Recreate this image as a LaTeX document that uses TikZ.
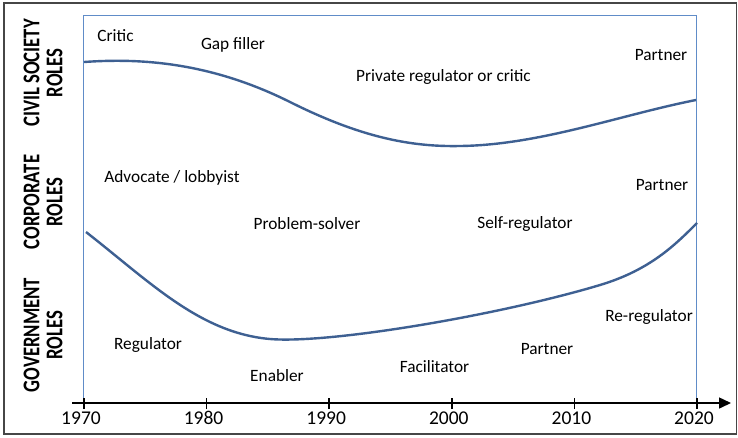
\documentclass[tikz,border=0pt]{standalone}
\usepackage{fontspec}
\setmainfont{Carlito}
\usetikzlibrary{arrows.meta}
\definecolor{curveblue}{RGB}{62,96,146}
\definecolor{boxblue}{RGB}{96,140,200}
\definecolor{frame}{RGB}{70,70,70}
\tikzset{
  lbl/.style={font=\fontsize{17.3}{20}\selectfont, anchor=base, inner sep=0pt},
  yr/.style={font=\fontsize{19.5}{22}\selectfont, anchor=base, inner sep=0pt},
  role/.style={font=\fontsize{24}{23}\selectfont\bfseries, rotate=90, align=center, inner sep=0pt, xscale=0.78},
  curve/.style={draw=curveblue, line width=2.4pt},
  tick/.style={draw=black, line width=1.5pt}
}
\begin{document}
\begin{tikzpicture}[x=1pt,y=-1pt]
\useasboundingbox (0,0) rectangle (738,437);
\fill[white] (0,0) rectangle (738,437);
\draw[frame, line width=1.5pt] (4,3) rectangle (736.5,434);
% blue box
\coordinate (bl) at (83.5,403);
\coordinate (tl) at (83.5,15);
\coordinate (tr) at (696.5,15);
\coordinate (br) at (696.5,403);
\draw[boxblue, line width=1pt] (bl) -- (tl) -- (tr) -- (br);
% curves
\coordinate (c0) at (84,62);
\coordinate (c1) at (290,102);
\coordinate (c2) at (460,146);
\coordinate (c3) at (696,100);
\draw[curve] (c0) .. controls (140,58) and (210,62) .. (c1)
  .. controls (360,137) and (410,147) .. (c2)
  .. controls (540,145) and (620,115) .. (c3);
\coordinate (g0) at (86,232);
\coordinate (g1) at (270,339);
\coordinate (g2) at (600,285);
\coordinate (g3) at (697,223);
\draw[curve] (g0) .. controls (150,282) and (200,333) .. (g1)
  .. controls (330,344) and (500,315) .. (g2)
  .. controls (650,270) and (675,245) .. (g3);
% axis
\coordinate (ax0) at (72,403);
\coordinate (ax1) at (731,403);
\draw[black, line width=1.5pt, -{Triangle[length=12pt,width=11pt]}] (ax0) -- (ax1);
\foreach \i/\yy in {0/1970,1/1980,2/1990,3/2000,4/2010,5/2020}{
  \coordinate (t\i) at ({84+122.6*\i},403);
  \draw[tick] ([yshift=-6]t\i) -- ([yshift=5]t\i);
  \node[yr] (y\i) at ({81+122.6*\i},424.5) {\yy};
}
% role labels
\node[role] (cs) at (43,73) {CIVIL SOCIETY\\ROLES};
\node[role] (co) at (43,202) {CORPORATE\\ROLES};
\node[role] (go) at (43,335) {GOVERNMENT\\ROLES};
% text labels
\node[lbl] (critic) at (115.5,41) {Critic};
\node[lbl] (gap) at (233,49) {Gap filler};
\node[lbl] (priv) at (443.5,81.5) {Private regulator or critic};
\node[lbl] (p1) at (661,60) {Partner};
\node[lbl] (adv) at (172,182.5) {Advocate / lobbyist};
\node[lbl] (prob) at (307,229) {Problem-solver};
\node[lbl] (p2) at (662,190) {Partner};
\node[lbl] (self) at (525,228) {Self-regulator};
\node[lbl] (reg) at (148,349) {Regulator};
\node[lbl] (ena) at (277,381.5) {Enabler};
\node[lbl] (fac) at (434.5,372.5) {Facilitator};
\node[lbl] (p3) at (547,354) {Partner};
\node[lbl] (rereg) at (649,321.5) {Re-regulator};
\end{tikzpicture}
\end{document}
